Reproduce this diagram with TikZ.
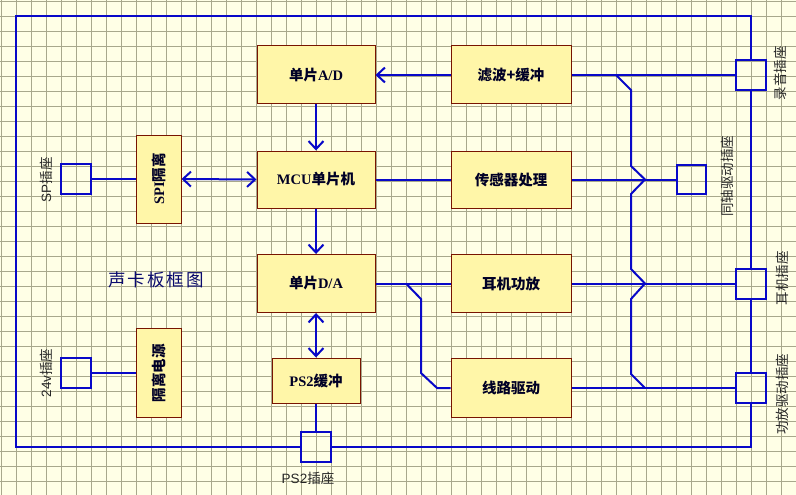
\documentclass[tikz,border=0pt]{standalone}
\usepackage{fontspec}
\setmainfont{Liberation Serif}
\newfontfamily\cjkfont{Noto Sans CJK SC}
\newfontfamily\lsans{Liberation Sans}
\newcommand\zh[1]{{\cjkfont #1}}
\usetikzlibrary{arrows.meta}
\definecolor{bgc}{RGB}{255,255,230}
\definecolor{gridc}{RGB}{168,168,140}
\definecolor{wire}{RGB}{8,8,200}
\definecolor{boxfill}{RGB}{255,246,168}
\definecolor{boxline}{RGB}{120,20,0}
\definecolor{navy}{RGB}{10,10,110}
\tikzset{
  blk/.style={draw=boxline, fill=boxfill, line width=1pt, inner sep=0pt, font=\fontsize{14.5}{16}\selectfont\bfseries, text=black!85!blue},
  plug/.style={draw=wire, line width=2pt, minimum width=30pt, minimum height=30pt, inner sep=0pt},
  wiring/.style={draw=wire, line width=2pt},
  arr/.style={wiring, -{Straight Barb[length=8pt,width=15pt]}},
  darr/.style={wiring, {Straight Barb[length=8pt,width=15pt]}-{Straight Barb[length=8pt,width=15pt]}},
  plab/.style={font=\fontsize{13.5}{15}\selectfont\lsans, text=black!85, inner sep=0pt},
}
\begin{document}
\begin{tikzpicture}[x=1pt,y=-1pt]
\useasboundingbox (0,0) rectangle (796,495);
\fill[bgc] (0,0) rectangle (796,495);
\foreach \g in {1,16,...,796} \draw[gridc, line width=0.9pt] (\g,0) -- (\g,495);
\foreach \g in {1,16,...,495} \draw[gridc, line width=0.9pt] (0,\g) -- (796,\g);

% blocks
\node[blk, minimum width=118pt, minimum height=58pt] (ad) at (316,75) {\zh{单片}A/D};
\node[blk, minimum width=120pt, minimum height=58pt] (lb) at (511,75) {\zh{滤波+缓冲}};
\node[blk, minimum width=118pt, minimum height=57pt] (mcu) at (316,179.5) {MCU\zh{单片机}};
\node[blk, minimum width=120pt, minimum height=57pt] (cg) at (511,179.5) {\zh{传感器处理}};
\node[blk, minimum width=118pt, minimum height=58pt] (da) at (316,283.5) {\zh{单片}D/A};
\node[blk, minimum width=120pt, minimum height=58pt] (ej) at (511,283.5) {\zh{耳机功放}};
\node[blk, minimum width=88pt, minimum height=45pt] (ps2) at (316,380.5) {PS2\zh{缓冲}};
\node[blk, minimum width=120pt, minimum height=59pt] (xl) at (511,388) {\zh{线路驱动}};
\node[blk, minimum width=88pt, minimum height=45pt, rotate=90] (spi) at (158.5,179) {SPI\zh{隔离}};
\node[blk, minimum width=89pt, minimum height=45pt, rotate=90] (gl) at (158.5,373) {\zh{隔离电源}};

% plugs
\node[plug] (sp) at (76,179) {};
\node[plug] (v24) at (76,373) {};
\node[plug] (ps2c) at (316,447) {};
\node[plug] (ly) at (751,75) {};
\node[plug, minimum width=29pt, minimum height=29pt] (tz) at (691.5,179.5) {};
\node[plug] (ejc) at (751,283.5) {};
\node[plug] (gf) at (751,388) {};

% labels
\node[plab, rotate=90] (lsp) at (46,180) {SP\zh{插座}};
\node[plab, rotate=90] (l24) at (46,373) {24v\zh{插座}};
\node[plab] (lps2) at (308,478) {PS2\zh{插座}};
\node[plab, rotate=90] (lly) at (780,73) {\zh{录音插座}};
\node[plab, rotate=90] (ltz) at (727,176) {\zh{同轴驱动插座}};
\node[plab, rotate=90] (lej) at (782,278) {\zh{耳机插座}};
\node[plab, rotate=90] (lgf) at (782,394) {\zh{功放驱动插座}};
\node[font=\fontsize{17.5}{19}\selectfont\cjkfont\addfontfeatures{LetterSpace=11}, text=navy, inner sep=0pt] (title) at (156,280) {声卡板框图};

% outer border
\coordinate (tl) at (16,16);
\coordinate (tr) at (751,16);
\coordinate (bl) at (16,447);
\coordinate (br) at (751,447);
\draw[wiring] (ly.north) -- (tr) -- (tl) -- (bl) -- (ps2c.west);
\draw[wiring] (ps2c.east) -- (br) -- (gf.south);
\draw[wiring] (gf.north) -- (ejc.south);
\draw[wiring] (ejc.north) -- (ly.south);

% signal connections
\draw[arr] (lb.west) -- (ad.east);
\draw[arr] (ad.south) -- (mcu.north);
\draw[arr] (mcu.south) -- (da.north);
\draw[darr] (da.south) -- (ps2.north);
\draw[wiring] (ps2.south) -- (ps2c.north);
\draw[darr] (spi.south) -- (mcu.west);
\draw[wiring] (sp.east) -- (spi.north);
\draw[wiring] (v24.east) -- (gl.north);
\draw[wiring] (mcu.east) -- (cg.west);
\draw[wiring] (lb.east) -- (ly.west);
\draw[wiring] (cg.east) -- (tz.west);
\draw[wiring] (ej.east) -- (ejc.west);
\draw[wiring] (xl.east) -- (gf.west);
\draw[wiring] (da.east) -- (ej.west);

% branch D/A -> line driver
\coordinate (b1) at (406,283.5);
\coordinate (b2) at (421,299);
\coordinate (b3) at (421,373);
\coordinate (b4) at (437,388);
\draw[wiring] (b1) -- (b2) -- (b3) -- (b4) -- (xl.west);

% crossing bus
\coordinate (c0) at (616,75);
\coordinate (c1) at (631,90);
\coordinate (c2) at (631,166);
\coordinate (c3) at (645,179.5);
\coordinate (c4) at (631,194);
\coordinate (c5) at (631,269);
\coordinate (c6) at (645,283.5);
\coordinate (c7) at (631,299);
\coordinate (c8) at (631,374);
\coordinate (c9) at (645,388);
\draw[wiring] (c0) -- (c1) -- (c2) -- (c3) -- (c4) -- (c5) -- (c6) -- (c7) -- (c8) -- (c9);
\end{tikzpicture}
\end{document}
